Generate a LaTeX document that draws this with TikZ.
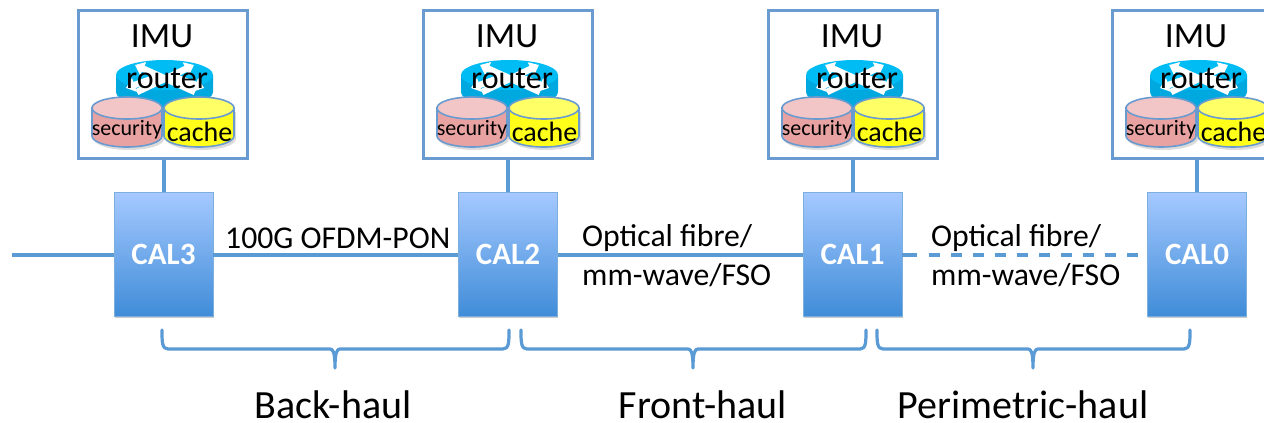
\documentclass[tikz,border=0pt]{standalone}
\usepackage{fontspec}
\setmainfont{Carlito}
\usetikzlibrary{shadows,arrows.meta}
\definecolor{linkblue}{HTML}{5B9BD5}
\definecolor{edgeblue}{HTML}{6A9BD0}
\definecolor{calTop}{HTML}{A5C9FF}
\definecolor{calBot}{HTML}{3F8CD8}
\definecolor{routerblue}{HTML}{00BCF5}
\definecolor{routerside}{HTML}{00A8E0}
\definecolor{secTop}{HTML}{F2C6C6}
\definecolor{secBody}{HTML}{E8A2A2}
\definecolor{cacheTop}{HTML}{FFFF66}
\definecolor{cacheBody}{HTML}{FFFF1A}
\tikzset{
  imubox/.style={draw=edgeblue,line width=3pt,minimum width=169pt,minimum height=148pt,inner sep=0pt},
  calbox/.style={rectangle,minimum width=99pt,minimum height=124pt,inner sep=0pt,top color=calTop,bottom color=calBot,draw=linkblue!80,line width=.5pt,
    drop shadow={shadow xshift=0.5pt,shadow yshift=-1.5pt,opacity=.35,fill=black!60},
    text=white,font=\fontsize{31}{31}\selectfont\bfseries},
  link/.style={draw=linkblue,line width=4pt},
  brace/.style={draw=linkblue,line width=3.2pt,line cap=round,line join=round},
  lbl/.style={inner sep=0pt,anchor=west,font=\fontsize{31.7}{31.7}\selectfont,text=black},
  haul/.style={inner sep=0pt,font=\fontsize{40}{40}\selectfont,text=black},
  cyl/.style={draw=edgeblue,line width=1.6pt},
  xarrow/.style={white,line width=6.5pt,-{Triangle[length=9pt,width=14pt]}},
}
\begin{document}
\begin{tikzpicture}[x=1pt,y=-1pt]
\useasboundingbox (0,0) rectangle (1264,423);
\clip (0,0) rectangle (1264,423);
\fill[white] (0,0) rectangle (1264,423);
\foreach \n/\dx/\cx in {3/0/163.5,2/345/508,1/690/852.5,0/1034/1197}{
  \node[calbox] (cal\n) at (\cx,254.5) {\raisebox{-2pt}{CAL\n}};
  \begin{scope}[shift={(\dx,0)}]
    \node[imubox] (imu\n) at (162.5,84) {};
    % router
    \fill[routerside] (116,75) -- (116,92) arc[start angle=180,end angle=0,x radius=48.5,y radius=15] -- (213,75) -- cycle;
    \fill[routerblue] (164.5,75) ellipse[x radius=48.5,y radius=15];
    \draw[xarrow] (137,92) -- (194,65);
    \draw[xarrow] (195,92) -- (135,65);
    \draw[xarrow] (172,76) -- (204,88);
    \draw[xarrow] (160,76) -- (126,88);
    % security
    \fill[black,opacity=.14] (94,112) -- (94,139) arc[start angle=180,end angle=0,x radius=35,y radius=11] -- (164,112) -- cycle;
    \draw[cyl,fill=secBody] (92,108) -- (92,136) arc[start angle=180,end angle=0,x radius=35,y radius=11] -- (162,108) -- cycle;
    \draw[cyl,fill=secTop] (127,108) ellipse[x radius=35,y radius=11];
    % cache
    \fill[black,opacity=.14] (166,112) -- (166,139) arc[start angle=180,end angle=0,x radius=35,y radius=11] -- (236,112) -- cycle;
    \draw[cyl,fill=cacheBody] (164,108) -- (164,136) arc[start angle=180,end angle=0,x radius=35,y radius=11] -- (234,108) -- cycle;
    \draw[cyl,fill=cacheTop] (199,108) ellipse[x radius=35,y radius=11];
    \node[inner sep=0pt,font=\fontsize{35.5}{35.5}\selectfont] (imut\n) at (162,36) {IMU};
    \node[inner sep=0pt,font=\fontsize{32}{32}\selectfont] (rout\n) at (167,78) {router};
    \node[inner sep=0pt,font=\fontsize{22}{22}\selectfont] (sect\n) at (127,130) {security};
    \node[inner sep=0pt,font=\fontsize{28}{28}\selectfont] (cach\n) at (199.5,132) {cache};
  \end{scope}
  \draw[link] (cal\n.north) -- (cal\n.north |- imu\n.south);
}
\coordinate (start) at (12,254.5);
\draw[link] (start) -- (start -| cal3.west);
\draw[link] (cal3.east |- start) -- (cal2.west |- start);
\draw[link] (cal2.east |- start) -- (cal1.west |- start);
\coordinate (dashA) at (cal1.east |- start);
\coordinate (dashB) at (917,254.5);
\coordinate (dashC) at (929,254.5);
\draw[link] (dashA) -- (dashB);
\draw[link,dash pattern=on 11pt off 11pt] (dashC) -- (cal0.west |- start);
\node[lbl] (l1) at (225,238) {100G OFDM-PON};
\node[lbl] (l2a) at (582,238) {Optical fibre/};
\node[lbl] (l2b) at (582,275) {mm-wave/FSO};
\node[lbl] (l3a) at (931,238) {Optical fibre/};
\node[lbl] (l3b) at (931,275) {mm-wave/FSO};
% braces
\foreach \a/\m/\b in {162/335/509,521/693/866,877/1033/1190}{
  \draw[brace] (\a,330) .. controls (\a,342) and (\a,349) .. (\a+6,349) -- (\m-5,349) .. controls (\m-2,349) and (\m,352) .. (\m,368) .. controls (\m,352) and (\m+2,349) .. (\m+5,349) -- (\b-6,349) .. controls (\b,349) and (\b,342) .. (\b,330);
}
\node[haul] (h1) at (333,405) {Back-haul};
\node[haul] (h2) at (703,405) {Front-haul};
\node[haul] (h3) at (1023,405) {Perimetric-haul};
\end{tikzpicture}
\end{document}
